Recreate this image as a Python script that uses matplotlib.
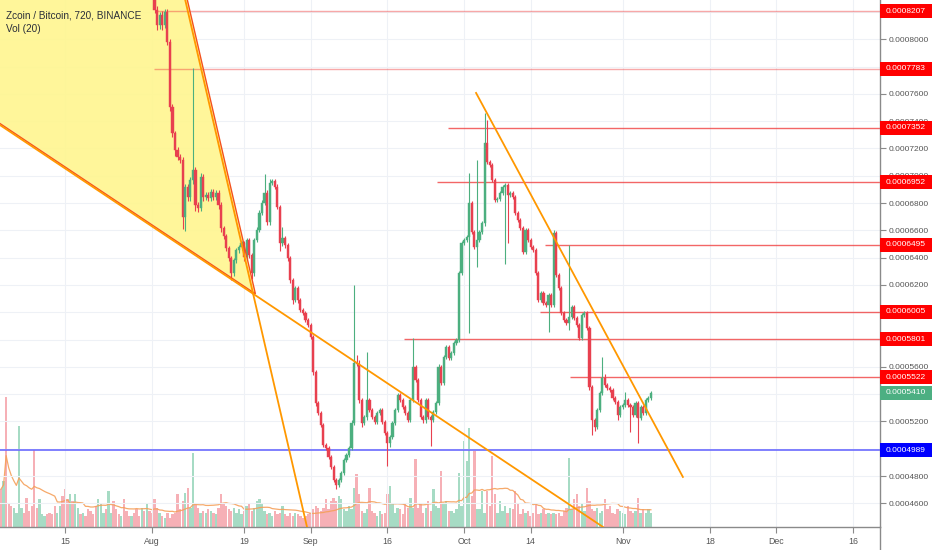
import matplotlib
matplotlib.use("Agg")
import matplotlib.pyplot as plt
import matplotlib.dates as mdates
from matplotlib.patches import Rectangle, Polygon
from matplotlib.lines import Line2D
import matplotlib.transforms as mtransforms
import numpy as np
import pandas as pd
from datetime import datetime, timedelta

plt.rcParams['font.family'] = ['Liberation Sans', 'DejaVu Sans']

# ---------------- data ----------------
title_text = "Zcoin / Bitcoin, 720, BINANCE"
vol_text = "Vol (20)"

first_candle = datetime(2019, 8, 1, 12)   # 12h candles
first_open_e7 = 8350                        # prices in units of 1e-7 BTC

close_e7 = [
    8215, 8105, 8178, 8105, 8200, 7980, 7504, 7313, 7188, 7137,
    7115, 6697, 6917, 6844, 6969, 7042, 6785, 6763, 6991, 6844,
    6859, 6837, 6881, 6844, 6873, 6785, 6617, 6558, 6470, 6397,
    6287, 6382, 6455, 6477, 6507, 6404, 6529, 6419, 6287, 6529,
    6602, 6727, 6800, 6873, 6661, 6947, 6960, 6917, 6770, 6507,
    6543, 6492, 6397, 6236, 6089, 6177, 6089, 6016, 5994, 5942,
    5906, 5818, 5561, 5334, 5261, 5173, 5026, 5004, 4938, 4865,
    4770, 4733, 4770, 4821, 4916, 4953, 5004, 5187, 5627, 5620,
    5356, 5187, 5231, 5356, 5283, 5231, 5195, 5261, 5283, 5195,
    5114, 5041, 5085, 5187, 5283, 5393, 5356, 5305, 5261, 5209,
    5356, 5598, 5503, 5356,
    5231, 5209, 5356, 5231, 5209, 5268, 5334, 5598, 5481, 5671,
    5744, 5664, 5701, 5774, 5796, 6287, 6507, 6529, 6551, 6800,
    6587, 6477, 6529, 6587, 6653, 7240, 7101, 7079, 6969, 6822,
    6830, 6873, 6917, 6932, 6859, 6873, 6844, 6727, 6675, 6617,
    6441, 6602, 6529,
    6477, 6455, 6287, 6089, 6140, 6067, 6052, 6126, 6052, 6580,
    6272, 6177, 5994, 5942, 5920, 5964, 6038, 5957, 5906, 5810,
    5979, 5994, 5884, 5451, 5209, 5158, 5283, 5407, 5520, 5466,
    5444, 5429, 5371, 5341, 5246, 5305, 5319, 5356, 5319, 5305,
    5246, 5334, 5224, 5305, 5261, 5356, 5371, 5410,
]

wick_up_e7 = [
    50, 30, 20, 30, 20, 20, 20, 20, 15, 20,
    20, 20, 20, 20, 20, 748, 20, 20, 30, 20,
    20, 20, 20, 20, 20, 20, 20, 15, 15, 15,
    15, 15, 15, 15, 15, 15, 15, 15, 15, 15,
    20, 20, 20, 140, 20, 30, 20, 20, 20, 15,
    80, 15, 15, 15, 15, 15, 15, 15, 15, 15,
    15, 15, 15, 15, 15, 15, 15, 15, 15, 15,
    15, 15, 15, 15, 15, 15, 15, 20, 570, 60,
    30, 15, 15, 350, 15, 15, 15, 15, 15, 15,
    15, 15, 15, 15, 15, 15, 15, 15, 15, 15,
    15, 210, 15, 15, 15, 15, 15, 15, 15, 15,
    15, 20, 15, 15, 15, 15, 15, 15, 15, 15,
    15, 15, 15, 220, 15, 15, 586, 15, 15, 220,
    170, 15, 15, 15, 15, 15, 15, 15, 15, 15,
    15, 15, 15, 15, 15, 15, 15, 15, 15, 15,
    15, 15, 15, 15, 15, 15, 20, 15, 15, 15,
    15, 15, 528, 15, 15, 15, 15, 15, 15, 15,
    15, 15, 15, 15, 15, 150, 30, 15, 15, 15,
    15, 15, 15, 15, 60, 15, 15, 15, 15, 15,
    15, 15, 15, 15, 15,
]

wick_dn_e7 = [
    20, 40, 30, 40, 20, 20, 30, 30, 40, 20,
    20, 90, 100, 30, 30, 30, 40, 30, 20, 30,
    25, 25, 25, 25, 25, 25, 30, 20, 20, 20,
    51, 20, 20, 20, 20, 30, 20, 20, 40, 20,
    15, 15, 15, 15, 20, 20, 15, 15, 15, 60,
    20, 20, 20, 20, 25, 15, 20, 15, 15, 15,
    15, 15, 20, 20, 15, 15, 15, 15, 15, 15,
    15, 30, 15, 15, 15, 15, 15, 15, 15, 15,
    20, 30, 15, 20, 15, 15, 15, 15, 15, 15,
    15, 170, 30, 15, 15, 15, 15, 15, 15, 15,
    15, 15, 15, 15, 15, 20, 20, 15, 190, 15,
    15, 15, 15, 15, 15, 15, 15, 15, 15, 15,
    15, 15, 15, 700, 15, 15, 146, 15, 15, 20,
    15, 15, 15, 15, 15, 15, 15, 560, 350, 15,
    15, 15, 15, 15, 15, 15, 15, 15, 15, 15,
    15, 15, 15, 15, 200, 15, 15, 15, 15, 15,
    15, 15, 50, 15, 15, 15, 15, 15, 15, 15,
    20, 110, 30, 15, 15, 15, 15, 15, 15, 15,
    15, 37, 15, 15, 15, 15, 184, 15, 15, 183,
    15, 15, 15, 15, 15,
]

# volume (relative units) for the 60 bars before the first visible candle
vol_pre = [
    38, 46, 130, 23, 21, 19, 14, 101, 19, 14,
    29, 16, 21, 78, 19, 28, 13, 11, 13, 14,
    13, 21, 14, 21, 31, 38, 28, 33, 26, 33,
    19, 13, 14, 11, 18, 16, 13, 21, 28, 24,
    14, 18, 36, 14, 26, 18, 13, 11, 28, 16,
    11, 11, 14, 18, 11, 19, 16, 23, 16, 14,
]
vol_pre_dir = ("rgrrrggggr" "rrrrrgggrr" "rrggrrrgrg"
               "grgrrrrrgg" "grggrrrgrr" "rgrrrgrgrr")

vol_main = [
    28, 19, 14, 11, 9, 14, 9, 13, 14, 33,
    18, 26, 34, 39, 19, 74, 23, 19, 14, 16,
    14, 18, 16, 14, 13, 19, 33, 23, 21, 18,
    16, 19, 14, 18, 13, 16, 21, 23, 16, 19,
    26, 28, 23, 16, 13, 14, 11, 16, 13, 14,
    21, 13, 11, 14, 11, 14, 13, 11, 9, 11,
    13, 14, 18, 21, 19, 16, 19, 28, 18,
    26, 29, 26, 31, 28, 18, 16, 21, 18, 39,
    53, 33, 16, 14, 18, 39, 16, 14, 11, 16,
    13, 14, 33, 41, 23, 14, 19, 18, 13, 23,
    19, 29, 19, 68, 19, 23, 14, 19, 26, 16,
    38, 21, 19, 56, 23, 26, 16, 16, 14, 18,
    54, 21, 86, 66, 99, 31, 76, 18, 18, 36,
    14, 36, 21, 71, 33, 14, 26, 16, 21, 14,
    19, 18, 36, 23, 13, 18, 14, 16, 11, 14,
    23, 13, 14, 18, 13, 14, 13, 14, 13, 14,
    11, 16, 19, 69, 18, 28, 33, 21, 23, 16,
    39, 26, 18, 16, 19, 14, 16, 28, 18, 21,
    14, 13, 18, 16, 14, 13, 21, 16, 14, 16,
    29, 14, 18, 14, 18, 14,
]

level_prices = [0.0008207, 0.0007783, 0.0007352, 0.0006952, 0.0006495,
                0.0006005, 0.0005801, 0.0005522]
level_starts = [datetime(2019, 8, 1, 12), datetime(2019, 8, 1, 8),
                datetime(2019, 9, 27, 20), datetime(2019, 9, 25, 17),
                datetime(2019, 10, 16, 19), datetime(2019, 10, 15, 19),
                datetime(2019, 9, 19, 6), datetime(2019, 10, 21, 17)]
support_price = 0.0004989
last_price = 0.0005410

# trend-line anchors (date, price)
steep_line = [(datetime(2019, 8, 7, 12), 0.0008288), (datetime(2019, 8, 31, 12), 0.0004393)]
lower_line = [(datetime(2019, 7, 1), 0.0007404), (datetime(2019, 11, 1), 0.0004330)]
down_line = [(datetime(2019, 10, 3, 8), 0.0007607), (datetime(2019, 11, 12, 18), 0.0004793)]
triangle = [(datetime(2019, 8, 1), 0.000934), (datetime(2019, 8, 20, 19), 0.00061347),
            (datetime(2019, 4, 15), 0.000933)]

date_ticks = [datetime(2019, 7, 15), datetime(2019, 8, 1), datetime(2019, 8, 19),
              datetime(2019, 9, 1), datetime(2019, 9, 16), datetime(2019, 10, 1),
              datetime(2019, 10, 14), datetime(2019, 11, 1), datetime(2019, 11, 18),
              datetime(2019, 12, 1), datetime(2019, 12, 16)]
date_labels = ["15", "Aug", "19", "Sep", "16", "Oct", "14", "Nov", "18", "Dec", "16"]

# price grid every 0.00002; labels hidden where a level box covers them
price_ticks = [round(0.00046 + 0.00002 * i, 7) for i in range(19)]
hidden_tick_labels = [0.00082, 0.00078, 0.00060, 0.00058, 0.00054, 0.00050]

# ---------------- derived series ----------------
n = len(close_e7)
assert len(wick_up_e7) == n and len(wick_dn_e7) == n and len(vol_main) == n
assert len(vol_pre) == len(vol_pre_dir)

close = np.array(close_e7) * 1e-7
open_ = np.concatenate([[first_open_e7 * 1e-7], close[:-1]])
high = np.maximum(open_, close) + np.array(wick_up_e7) * 1e-7
low = np.minimum(open_, close) - np.array(wick_dn_e7) * 1e-7
times = [first_candle + timedelta(hours=12 * k) for k in range(n)]
pre_times = [first_candle - timedelta(hours=12 * (len(vol_pre) - j)) for j in range(len(vol_pre))]
up = close >= open_

UP = '#4caf7f'
DN = '#e8404f'
VUP = '#a6dbc4'
VDN = '#f6b0b6'

# ---------------- figure ----------------
W, H = 932, 550
fig = plt.figure(figsize=(W / 100, H / 100), dpi=100)
fig.patch.set_facecolor('white')
axw = 880 / W
axb = 23 / H
ax = fig.add_axes([0, axb, axw, 1 - axb])
axv = ax.twinx()
ax.set_zorder(2)
axv.set_zorder(1)
ax.patch.set_visible(False)

x_left = datetime(2019, 7, 2, 7, 12)
x_right = datetime(2019, 12, 21, 6, 30)
y_lo, y_hi = 0.00044263, 0.00082880
ax.set_xlim(x_left, x_right)
ax.set_ylim(y_lo, y_hi)
axv.set_ylim(0, 527)

# volume
vol_all = list(vol_pre) + list(vol_main)
t_all = pre_times + times
vcol = [VUP if c == 'g' else VDN for c in vol_pre_dir] + [VUP if u else VDN for u in up]
axv.bar(t_all, vol_all, width=0.46, color=vcol, linewidth=0, zorder=1)
vol_ma = pd.Series(vol_all).rolling(20, min_periods=1).mean()
axv.plot(t_all, vol_ma, color='#f5a05a', lw=0.9, alpha=0.9, zorder=2)
axv.set_yticks([])
for s in axv.spines.values():
    s.set_visible(False)

# grid
ax.set_yticks(price_ticks)
ax.set_yticklabels(["" if any(abs(p - h) < 1e-9 for h in hidden_tick_labels) else f"{p:.7f}"
                    for p in price_ticks])
ax.set_xticks(date_ticks)
ax.set_xticklabels(date_labels)
ax.grid(True, color='#eef1f6', lw=0.8, zorder=0)
ax.set_axisbelow(True)

# yellow triangle + trend lines
tri_pts = [(mdates.date2num(d + timedelta(hours=10)), p) for d, p in triangle]
ax.add_patch(Polygon(tri_pts, closed=True, facecolor='#fff68f', alpha=0.9,
                     edgecolor='none', zorder=1))
ax.add_patch(Polygon(tri_pts, closed=True, facecolor='none', edgecolor='#f4511e',
                     lw=1.0, zorder=5))
for line in (steep_line, lower_line):
    (d1, p1), (d2, p2) = line
    ax.axline((mdates.date2num(d1), p1), (mdates.date2num(d2), p2),
              color='#ff9800', lw=1.3, zorder=5)
(d1, p1), (d2, p2) = down_line
ax.plot([d1, d2], [p1, p2], color='#ff9800', lw=1.3, zorder=5)

# horizontal levels
for p, d in zip(level_prices, level_starts):
    a = 0.45 if p > 0.00075 else 0.8
    ax.hlines(p, d, x_right, color='#f04040', lw=1.0, alpha=a, zorder=2)
ax.axhline(support_price, color='#6b6bff', lw=1.2, zorder=2)

# candles
cols = np.where(up, UP, DN)
ax.vlines(times, low, high, colors=cols, lw=0.8, zorder=3)
body = np.maximum(np.abs(close - open_), 2.5e-7)
ax.bar(times, body, bottom=np.minimum(open_, close), width=0.42, color=cols,
       edgecolor=cols, linewidth=0.3, zorder=4)

# axes styling
ax.yaxis.tick_right()
for side in ('left', 'top'):
    ax.spines[side].set_visible(False)
for side in ('right', 'bottom'):
    ax.spines[side].set_color('#8a8a8a')
    ax.spines[side].set_linewidth(1.0)
ax.tick_params(axis='y', direction='out', length=4, width=0.8, color='#8a8a8a',
               pad=2, labelsize=6, labelcolor='#555555')
ax.tick_params(axis='x', direction='out', length=4, width=0.8, color='#8a8a8a',
               pad=3, labelsize=6.3, labelcolor='#555555')
fig.add_artist(Line2D([axw, axw], [0, axb], color='#8a8a8a', lw=1.0))

# price label boxes
trans = mtransforms.blended_transform_factory(ax.transAxes, ax.transData)
box_w = 52 / 880
box_h = 14 * (y_hi - y_lo) / 527
labels = [(p, '#ff0000') for p in level_prices] + [(last_price, '#4caf82'), (support_price, '#0000ff')]
for p, c in labels:
    ax.add_patch(Rectangle((1.0, p - box_h / 2), box_w, box_h, transform=trans,
                           facecolor=c, edgecolor='none', clip_on=False, zorder=10))
    ax.text(1.0 + 6 / 880, p, f"{p:.7f}", transform=trans, color='white', fontsize=6,
            va='center', ha='left', clip_on=False, zorder=11)

# titles
fig.text(6 / W, 1 - 15 / H, title_text, fontsize=7.2, color='#2a2e39', va='center', ha='left')
fig.text(6 / W, 1 - 29 / H, vol_text, fontsize=7.2, color='#2a2e39', va='center', ha='left')

fig.savefig('out.png', dpi=100)
